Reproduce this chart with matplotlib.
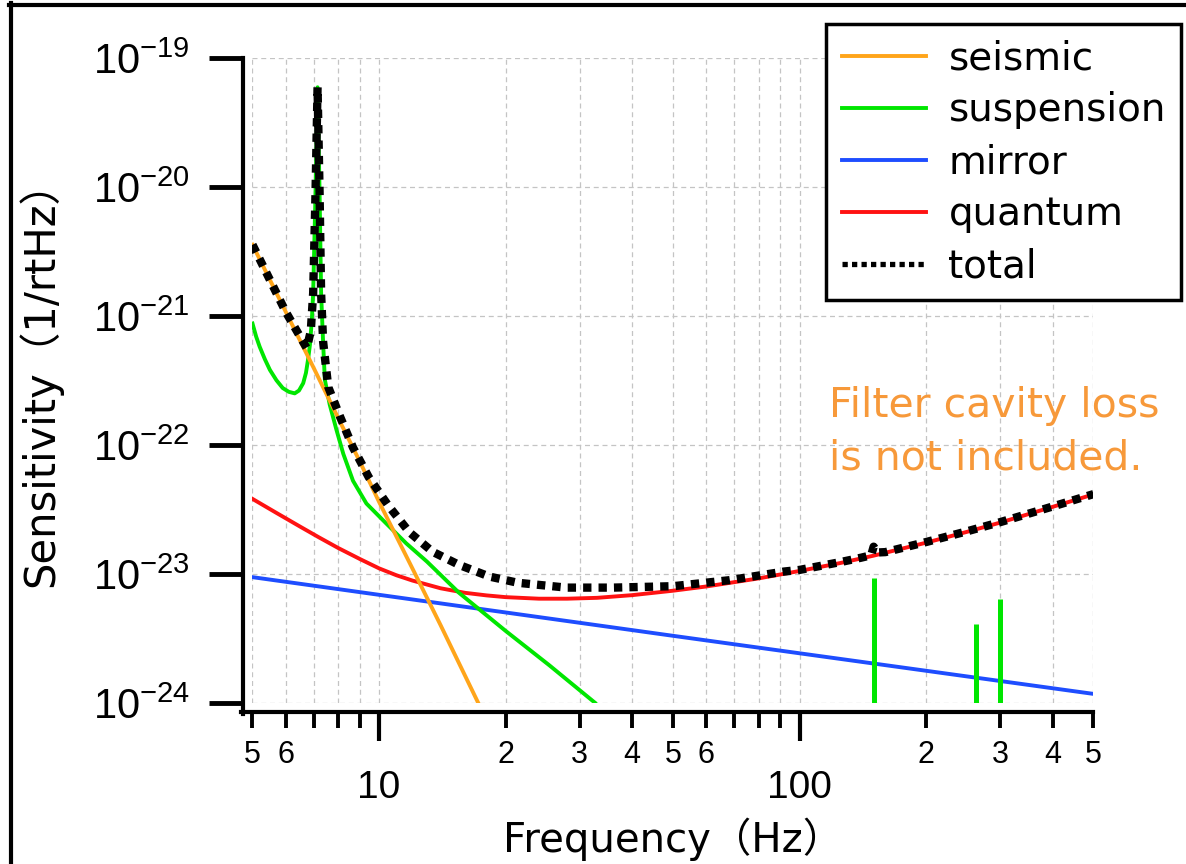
import matplotlib.pyplot as plt
from matplotlib.lines import Line2D
from matplotlib.ticker import FixedLocator, FixedFormatter, NullLocator

plt.rcParams['font.family'] = ['DejaVu Sans', 'Noto Sans CJK JP']
plt.rcParams['mathtext.fontset'] = 'custom'
plt.rcParams['mathtext.rm'] = 'Liberation Sans'
plt.rcParams['mathtext.it'] = 'Liberation Sans'
plt.rcParams['mathtext.bf'] = 'Liberation Sans'

# noise curves (Hz, 1/rtHz)
seismic_hz = [5, 6, 7, 8, 9, 10, 12, 14, 17.2]
seismic = [3.55e-21, 1.07e-21, 3.9e-22, 1.6e-22, 7.4e-23, 3.6e-23, 1.1e-23, 4.0e-24, 1.0e-24]

suspension_hz = [5, 5.1, 5.2, 5.35, 5.5, 5.7, 5.9, 6.1, 6.3, 6.45, 6.6, 6.7, 6.78, 6.85, 6.92,
                 6.97, 7.06, 7.14, 7.22, 7.28, 7.36, 7.43, 7.63, 7.92, 8.22, 8.67, 9.33, 10.4,
                 11.6, 13, 15.5, 20, 25.4, 32.6]
suspension = [8.7e-22, 6.9e-22, 5.75e-22, 4.6e-22, 3.8e-22, 3.16e-22, 2.75e-22, 2.57e-22,
              2.5e-22, 2.63e-22, 3.0e-22, 3.6e-22, 4.6e-22, 6.0e-22, 9.3e-22, 1.5e-21, 8.9e-21,
              5.9e-20, 8.9e-21, 1.5e-21, 6.2e-22, 3.2e-22, 2.05e-22, 1.3e-22, 8.5e-23, 5.25e-23,
              3.5e-23, 2.45e-23, 1.72e-23, 1.24e-23, 7.1e-24, 3.6e-24, 1.95e-24, 1.0e-24]

# violin modes (vertical green lines)
violin_hz = [150, 263, 300]
violin_top = [9.3e-24, 4.1e-24, 6.4e-24]

mirror_hz = [5, 50, 500]
mirror = [9.4e-24, 3.3e-24, 1.17e-24]

quantum_hz = [5, 5.7, 6.5, 7.2, 8, 9, 10, 11, 12, 14, 16, 18, 20, 24, 28, 33, 40, 50, 60, 80,
              100, 125, 150, 200, 250, 300, 400, 500]
quantum = [3.8e-23, 2.96e-23, 2.31e-23, 1.91e-23, 1.58e-23, 1.3e-23, 1.1e-23, 9.72e-24,
           8.85e-24, 7.71e-24, 7.11e-24, 6.79e-24, 6.58e-24, 6.4e-24, 6.4e-24, 6.5e-24,
           6.82e-24, 7.38e-24, 7.96e-24, 9.2e-24, 1.05e-23, 1.21e-23, 1.38e-23, 1.74e-23,
           2.11e-23, 2.49e-23, 3.3e-23, 4.12e-23]

total_hz = [5, 6, 6.73, 6.88, 6.97, 7.06, 7.14, 7.22, 7.28, 7.36, 7.57, 8.07, 8.67, 9.45, 10.5,
            11.8, 13.4, 15.5, 18.3, 21.4, 27.9, 36, 50, 68, 92, 100, 125, 140, 148, 150, 153,
            160, 200, 250, 300, 400, 500]
total = [3.55e-21, 1.07e-21, 5.6e-22, 7.6e-22, 1.5e-21, 8.9e-21, 5.9e-20, 8.9e-21, 1.5e-21,
         6.3e-22, 2.8e-22, 1.66e-22, 9.5e-23, 5.6e-23, 3.4e-23, 2.1e-23, 1.48e-23, 1.17e-23,
         9.5e-24, 8.5e-24, 7.8e-24, 7.8e-24, 8.0e-24, 8.9e-24, 1.04e-23, 1.07e-23, 1.23e-23,
         1.33e-23, 1.39e-23, 1.62e-23, 1.46e-23, 1.47e-23, 1.76e-23, 2.13e-23, 2.51e-23,
         3.32e-23, 4.14e-23]

labels = ['seismic', 'suspension', 'mirror', 'quantum', 'total']
colors = ['#FFA51A', '#00E600', '#1E4DFF', '#FF1212', 'black']

x_major = [10, 100]
x_major_lab = ['10', '100']
x_minor = [5, 6, 7, 8, 9, 20, 30, 40, 50, 60, 70, 80, 90, 200, 300, 400, 500]
x_minor_lab = ['5', '6', '', '', '', '2', '3', '4', '5', '6', '', '', '', '2', '3', '4', '5']
y_ticks = [1e-24, 1e-23, 1e-22, 1e-21, 1e-20, 1e-19]
y_tick_lab = [r'$10^{-24}$', r'$10^{-23}$', r'$10^{-22}$', r'$10^{-21}$', r'$10^{-20}$', r'$10^{-19}$']

fig = plt.figure(figsize=(11.86, 8.64), dpi=100)
ax = fig.add_axes([0.2129, 0.1867, 0.7091, 0.7465])
ax.set_xscale('log')
ax.set_yscale('log')
ax.set_xlim(5, 500)
ax.set_ylim(1e-24, 1e-19)

lw = 2.8
ax.plot(mirror_hz, mirror, color=colors[2], lw=lw, zorder=3)
ax.plot(quantum_hz, quantum, color=colors[3], lw=lw, zorder=3)
ax.plot(suspension_hz, suspension, color=colors[1], lw=lw, zorder=4)
ax.vlines(violin_hz, 1e-24, violin_top, color=colors[1], lw=3.6, zorder=4)
ax.plot(seismic_hz, seismic, color=colors[0], lw=lw, zorder=5)
ax.plot(total_hz, total, color='black', lw=6, ls=(0, (1, 0.85)), zorder=6)

# ticks
ax.xaxis.set_major_locator(FixedLocator(x_major))
ax.xaxis.set_major_formatter(FixedFormatter(x_major_lab))
ax.xaxis.set_minor_locator(FixedLocator(x_minor))
ax.xaxis.set_minor_formatter(FixedFormatter(x_minor_lab))
ax.yaxis.set_major_locator(FixedLocator(y_ticks))
ax.yaxis.set_major_formatter(FixedFormatter(y_tick_lab))
ax.yaxis.set_minor_locator(NullLocator())

ax.tick_params(axis='x', which='major', direction='out', length=21, width=3, pad=21,
               labelsize=28, labelfontfamily='Liberation Sans')
ax.tick_params(axis='x', which='minor', direction='out', length=11.5, width=2.8, pad=9,
               labelsize=22, labelfontfamily='Liberation Sans')
ax.tick_params(axis='y', which='major', direction='out', length=24.5, width=3.5, pad=14, labelsize=30)

ax.grid(True, which='both', axis='x', ls=(0, (4, 3)), color='#c4c4c4', lw=0.9)
ax.grid(True, which='major', axis='y', ls=(0, (4, 3)), color='#c4c4c4', lw=0.9)
ax.set_axisbelow(True)

for s in ['top', 'right']:
    ax.spines[s].set_visible(False)
for s in ['left', 'bottom']:
    ax.spines[s].set_position(('outward', 6.5))
    ax.spines[s].set_linewidth(3)
ax.spines['left'].set_bounds(8.2e-25, 1e-19)
ax.spines['bottom'].set_bounds(4.7, 500)

ax.set_xlabel('Frequency（Hz）', fontsize=29)
ax.xaxis.set_label_coords(0.5, -0.178)
ax.set_ylabel('Sensitivity（1/rtHz）', fontsize=30)
ax.yaxis.set_label_coords(-0.2265, 0.51)

handles = [Line2D([], [], color=c, lw=lw) for c in colors[:4]]
handles.append(Line2D([], [], color='black', lw=3.8, ls=(0, (1, 0.8))))
leg = ax.legend(handles, labels, loc='upper right', bbox_to_anchor=(1181 / 1186, 1 - 24 / 864),
                bbox_transform=fig.transFigure, fontsize=28, fancybox=False, edgecolor='black',
                framealpha=1, borderaxespad=0, handlelength=2.16, handletextpad=0.59,
                labelspacing=0.36, borderpad=0.39)
leg.get_frame().set_linewidth(2.5)
leg.set_zorder(10)

fig.text(829 / 1186, 1 - 417 / 864, 'Filter cavity loss', color='#F7993A', fontsize=29.5, va='baseline')
fig.text(829 / 1186, 1 - 470 / 864, 'is not included.', color='#F7993A', fontsize=29.5, va='baseline')

# frame around the picture
fig.add_artist(Line2D([9.3 / 1186, 1], [1 - 5.3 / 864, 1 - 5.3 / 864], color='black', lw=3,
                      transform=fig.transFigure))
fig.add_artist(Line2D([11.3 / 1186, 11.3 / 1186], [0, 1 - 3.3 / 864], color='black', lw=3,
                      transform=fig.transFigure))

fig.savefig('out.png', dpi=100)
